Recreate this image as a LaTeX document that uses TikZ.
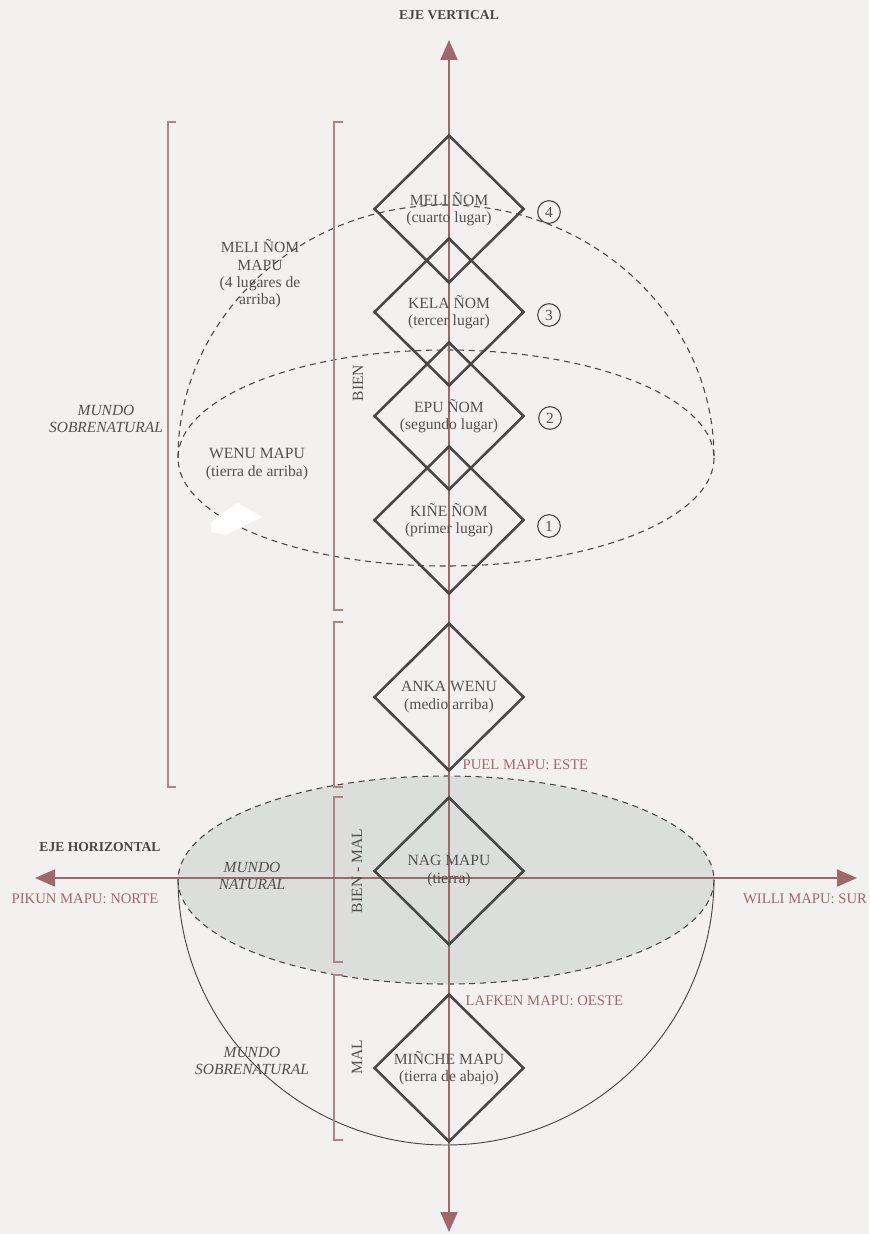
\documentclass[tikz,border=0pt]{standalone}
\usepackage{fontspec}
\setmainfont{Liberation Serif}
\usepackage{tikz}
\usetikzlibrary{arrows.meta,positioning,shapes.geometric}
\definecolor{papel}{RGB}{242,241,239}
\definecolor{ejecol}{RGB}{158,104,110}
\definecolor{llavecol}{RGB}{178,130,135}
\definecolor{rojo}{RGB}{160,104,110}
\definecolor{tinta}{RGB}{72,70,70}
\definecolor{texto}{RGB}{84,80,80}
\definecolor{natural}{RGB}{220,222,220}

\begin{document}
\begin{tikzpicture}[x=0.75pt,y=-0.75pt,
  eje/.style={line width=1.5pt,draw=ejecol,{Triangle[length=15pt,width=12.75pt,fill=ejecol]}-{Triangle[length=15pt,width=12.75pt,fill=ejecol]}},
  lugar/.style={diamond,draw=tinta,line width=1.9pt,minimum width=112.5pt,minimum height=111pt,inner sep=0pt,align=center,text=texto,font=\fontsize{11.7}{13}\selectfont},
  num/.style={circle,draw=tinta,line width=0.8pt,minimum size=17pt,inner sep=0pt,text=texto,font=\fontsize{11.5}{13}\selectfont},
  llave/.style={draw=llavecol,line width=0.9pt},
  punteada/.style={draw=tinta,line width=0.8pt,dash pattern=on 4.5pt off 3.5pt},
  etiq/.style={align=center,text=texto,font=\fontsize{11.7}{13}\selectfont},
  mundo/.style={align=center,text=texto,font=\fontsize{11.6}{12.8}\selectfont\itshape},
  punto/.style={text=rojo,font=\fontsize{11}{12.5}\selectfont},
  titulo/.style={text=tinta,font=\fontsize{10.2}{12}\selectfont\bfseries}]
\fill[papel] (0,0) rectangle (869,1234);
\useasboundingbox (0,0) rectangle (869,1234);

% mundo natural y mundo de abajo
\draw[punteada,fill=natural] (446,880) ellipse [x radius=268, y radius=104];
\draw[tinta,line width=0.7pt] (714,878) arc[start angle=0,end angle=180,x radius=268,y radius=267];

% wenu mapu
\draw[punteada] (446,458) ellipse [x radius=268, y radius=108];
\draw[punteada] (178,458) arc[start angle=180,end angle=360,x radius=268,y radius=253];
\fill[white] (211,523) -- (218,516) -- (238,503) -- (262,517) -- (226,535) -- (211,532) -- cycle;

% llaves
\draw[llave] (176,122) -- (168,122) -- (168,787) -- (176,787);
\draw[llave] (343,122) -- (334,122) -- (334,610) -- (343,610);
\draw[llave] (343,622) -- (334,622) -- (334,787) -- (343,787);
\draw[llave] (343,797) -- (334,797) -- (334,962) -- (343,962);
\draw[llave] (343,975) -- (334,975) -- (334,1140) -- (343,1140);

% ejes
\coordinate (arriba) at (449,40);
\coordinate (abajo) at (449,1232);
\coordinate (norte) at (35,878);
\coordinate (sur) at (857,878);
\draw[eje] (abajo) -- (arriba);
\draw[eje] (norte) -- (sur);

% lugares
\node[lugar] (meli) at (449,209) {MELI ÑOM\\(cuarto lugar)};
\node[lugar] (kela) at (449,312) {KELA ÑOM\\(tercer lugar)};
\node[lugar] (epu) at (449,416) {EPU ÑOM\\(segundo lugar)};
\node[lugar] (kine) at (449,520) {KIÑE ÑOM\\(primer lugar)};
\node[lugar] (anka) at (449,697) {ANKA WENU\\(medio arriba)};
\node[lugar] (nag) at (449,871) {NAG MAPU\\(tierra)};
\node[lugar] (minche) at (449,1068) {MIÑCHE MAPU\\(tierra de abajo)};

\node[num] (n4) at (549,212) {4};
\node[num] (n3) at (549,315) {3};
\node[num] (n2) at (550,418) {2};
\node[num] (n1) at (549,526) {1};

% textos
\node[titulo] (ejev) at (449,15) {EJE VERTICAL};
\node[titulo] (ejeh) at (100,847) {EJE HORIZONTAL};
\node[punto] (pikun) at (85,899) {PIKUN MAPU: NORTE};
\node[punto] (willi) at (805,899) {WILLI MAPU: SUR};
\node[punto,anchor=west] (puel) at (458,765) {PUEL MAPU: ESTE};
\node[punto,anchor=west] (lafken) at (461,1001) {LAFKEN MAPU: OESTE};

\node[etiq] (melimapu) at (260,274) {MELI ÑOM\\MAPU\\(4 lugares de\\arriba)};
\node[etiq] (wenu) at (257,464) {WENU MAPU\\(tierra de arriba)};
\node[mundo] (sobre1) at (106,419) {MUNDO\\SOBRENATURAL};
\node[mundo] (natu) at (252,876) {MUNDO\\NATURAL};
\node[mundo] (sobre2) at (252,1061) {MUNDO\\SOBRENATURAL};

\node[etiq,rotate=90] (bien) at (358,383) {BIEN};
\node[etiq,rotate=90] (bienmal) at (357,871) {BIEN - MAL};
\node[etiq,rotate=90] (mal) at (357,1057) {MAL};
\end{tikzpicture}
\end{document}
